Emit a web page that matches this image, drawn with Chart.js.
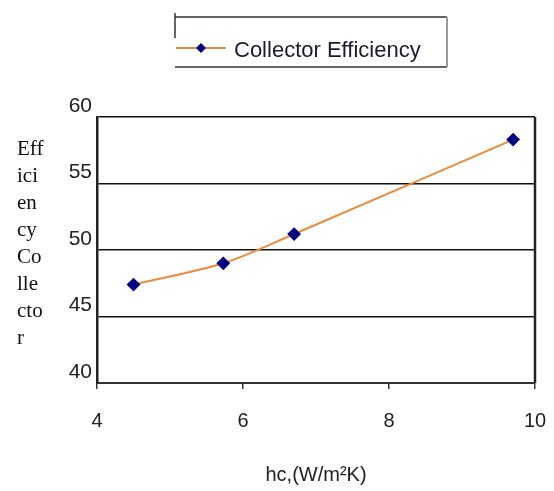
<!DOCTYPE html>
<html>
<head>
<meta charset="utf-8">
<script src="https://cdn.jsdelivr.net/npm/chart.js@4/dist/chart.umd.min.js"></script>
<style>
  html, body { margin: 0; padding: 0; background: #fff; }
  #wrap { width: 554px; height: 491px; position: relative; }
</style>
</head>
<body>
<div id="wrap"><canvas id="effChart"></canvas></div>
<script>
// data
const hcValues = [4.5, 5.73, 6.7, 9.7];
const efficiency = [47.4, 49.0, 51.2, 58.3];
const xTicks = [4, 6, 8, 10];
const yTicks = [40, 45, 50, 55, 60];
const seriesName = 'Collector Efficiency';
const yTitleParts = ['Eff', 'ici', 'en', 'cy', 'Co', 'lle', 'cto', 'r'];

// legend box + stacked y title + right border of the plot
const extras = {
    id: 'extras',
    afterDraw(chart) {
        const ctx = chart.ctx;
        const a = chart.chartArea;
        ctx.save();

        // right border of plot area
        ctx.strokeStyle = '#222';
        ctx.lineWidth = 2.5;
        ctx.beginPath();
        ctx.moveTo(a.right, a.top);
        ctx.lineTo(a.right, a.bottom);
        ctx.stroke();

        // legend frame
        ctx.strokeStyle = '#333';
        ctx.lineWidth = 1.5;
        ctx.beginPath();
        ctx.moveTo(175, 17); ctx.lineTo(447, 17);
        ctx.moveTo(175, 13); ctx.lineTo(175, 38);
        ctx.moveTo(175, 67); ctx.lineTo(447, 67);
        ctx.stroke();
        ctx.strokeStyle = '#999';
        ctx.lineWidth = 2;
        ctx.beginPath();
        ctx.moveTo(447, 17); ctx.lineTo(447, 67);
        ctx.stroke();

        // legend sample
        ctx.strokeStyle = '#ec8a3c';
        ctx.lineWidth = 2;
        ctx.beginPath();
        ctx.moveTo(176, 48); ctx.lineTo(226, 48);
        ctx.stroke();
        ctx.fillStyle = '#000080';
        ctx.beginPath();
        ctx.moveTo(201, 43); ctx.lineTo(206, 48); ctx.lineTo(201, 53); ctx.lineTo(196, 48);
        ctx.closePath();
        ctx.fill();

        ctx.fillStyle = '#1b1b2b';
        ctx.font = '22px "Liberation Sans", Arial, sans-serif';
        ctx.textBaseline = 'alphabetic';
        ctx.fillText(seriesName, 234, 57);

        // stacked y title
        ctx.font = '21px "Liberation Serif", "Times New Roman", serif';
        ctx.fillStyle = '#111';
        yTitleParts.forEach((s, i) => ctx.fillText(s, 17, 155 + i * 27));

        ctx.restore();
    }
};

new Chart(document.getElementById('effChart'), {
    type: 'scatter',
    data: {
        datasets: [{
            label: seriesName,
            data: hcValues.map((x, i) => ({ x: x, y: efficiency[i] })),
            showLine: true,
            borderColor: '#ec8a3c',
            borderWidth: 2,
            tension: 0.3,
            pointStyle: 'rectRot',
            pointRadius: 5.5,
            pointBackgroundColor: '#000080',
            pointBorderColor: '#000080'
        }]
    },
    options: {
        responsive: true,
        maintainAspectRatio: false,
        animation: false,
        layout: { padding: { top: 117, right: 19, left: 0, bottom: 0 } },
        plugins: {
            legend: { display: false },
            tooltip: { enabled: false }
        },
        scales: {
            x: {
                type: 'linear',
                min: 4, max: 10,
                afterBuildTicks: s => { s.ticks = xTicks.map(v => ({ value: v })); },
                afterFit: s => { s.height = 108; s.paddingLeft = 0; s.paddingRight = 0; },
                grid: { drawOnChartArea: false, tickLength: 6, color: '#333', lineWidth: 1.5 },
                border: { color: '#333', width: 2 },
                ticks: {
                    color: '#222',
                    padding: 20,
                    font: { family: '"Liberation Sans", Arial, sans-serif', size: 20 }
                },
                title: {
                    display: true,
                    text: 'hc,(W/m²K)',
                    color: '#222',
                    padding: { top: 20 },
                    font: { family: '"Liberation Sans", Arial, sans-serif', size: 20 }
                }
            },
            y: {
                min: 40, max: 60,
                afterBuildTicks: s => { s.ticks = yTicks.map(v => ({ value: v })); },
                afterFit: s => { s.width = 97; s.paddingTop = 0; s.paddingBottom = 0; },
                grid: { color: '#111', lineWidth: 1.5, drawTicks: false },
                border: { color: '#222', width: 2.5 },
                ticks: {
                    color: '#222',
                    padding: 5,
                    labelOffset: -11,
                    font: { family: '"Liberation Sans", Arial, sans-serif', size: 21 }
                }
            }
        }
    },
    plugins: [extras]
});
</script>
</body>
</html>
